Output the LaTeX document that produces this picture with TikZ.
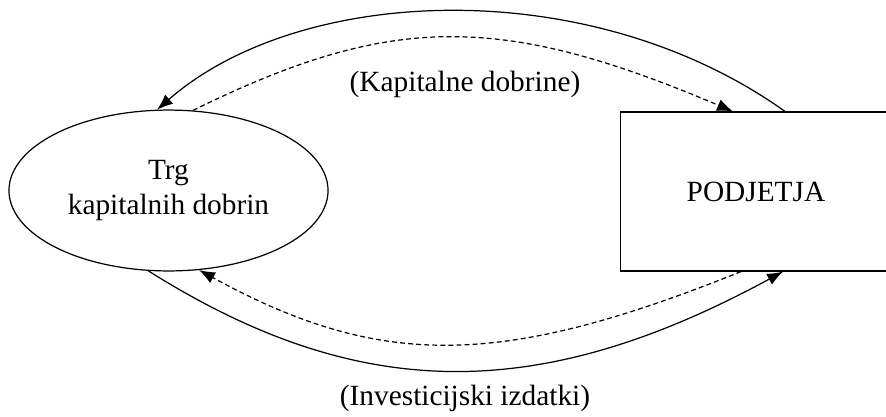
\documentclass[tikz,border=0pt]{standalone}
\usepackage{fontspec}
\setmainfont{Liberation Serif}
\usetikzlibrary{shapes.geometric,arrows.meta}
\tikzstyle{market} = [ellipse, draw, minimum width=130.5pt,
    minimum height=65.8pt, align=center, inner sep=0pt]
\tikzstyle{firm} = [rectangle, draw, minimum width=150pt,
    minimum height=65pt, anchor=west]
\tikzstyle{line} = [draw, -{Latex[length=6.5pt,width=5pt]}]
\tikzstyle{flow} = [line, dash pattern=on 2pt off 1.3pt]

\begin{document}
\begin{tikzpicture}[x=0.409pt, y=-0.409pt, line width=0.5pt,
    font=\fontsize{12}{14.3}\selectfont]
    \useasboundingbox (0,0) rectangle (886,416);
    % Place nodes
    \node [market] (market) at (168.5,190.5) {Trg\\kapitalnih dobrin};
    \node [firm] (box) at (620,191.5) {};
    \node (firms) at (756,191.5) {PODJETJA};
    \node (goods) at (465,84) {(Kapitalne dobrine)};
    \node (spending) at (465,398) {(Investicijski izdatki)};
    % Draw edges
    \path [line] ([xshift=67.5pt]box.north west) .. controls +(-195,-139) and +(143,-125) .. (market.98);
    \path [flow] (market.73) .. controls +(197,-97) and +(-233,-99) .. ([xshift=46.2pt]box.north west);
    \path [line] (market.256) .. controls +(211,133) and +(-243,132) .. ([xshift=66.7pt]box.south west);
    \path [flow] ([xshift=49.5pt]box.south west) .. controls +(-241,97) and +(181,99) .. (market.291);
\end{tikzpicture}
\end{document}
